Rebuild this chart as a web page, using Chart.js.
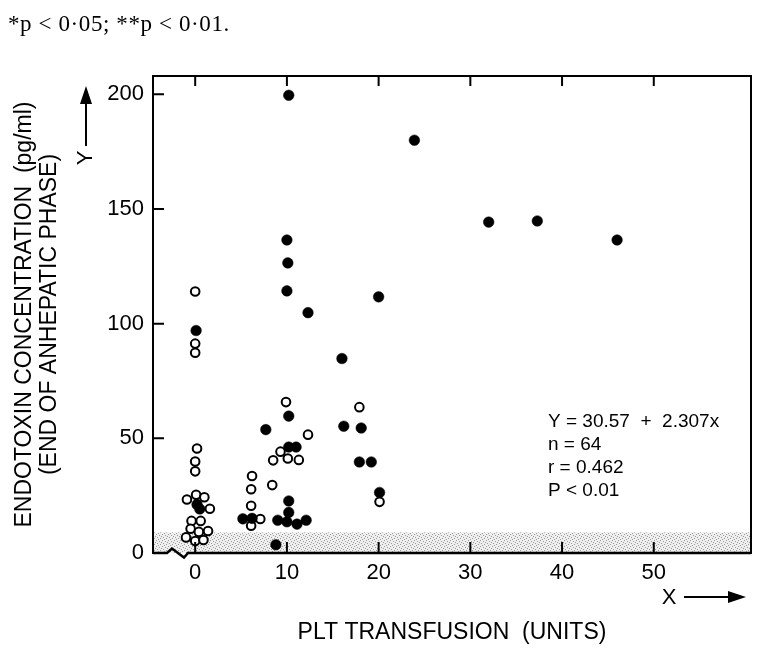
<!DOCTYPE html>
<html><head><meta charset="utf-8">
<script src="https://cdn.jsdelivr.net/npm/chart.js@4"></script>
<style>html,body{margin:0;padding:0;background:#fff}</style>
</head><body>
<canvas id="c" width="762" height="649"></canvas>
<script>
// ---- data ----
const X_TICKS = [0, 10, 20, 30, 40, 50];
const Y_TICKS = [0, 50, 100, 150, 200];
const filledX = [0.1, 0.2, 0.5,
  10.2, 10.0, 10.1, 10.0, 12.3, 10.2, 7.7, 10.2, 11.0, 5.2, 6.2, 10.2, 10.2, 9.0, 10.0, 11.1, 12.1, 8.8,
  16.0, 16.2, 18.1, 17.9, 19.2, 20.1, 20.0,
  23.9, 32.0, 37.3, 46.0];
const filledY = [97, 21.2, 19.2,
  199.6, 136.5, 126.5, 114.3, 104.8, 59.7, 53.8, 46.2, 46.2, 14.9, 15.1, 22.7, 17.7, 14.3, 13.6, 12.6, 14.3, 3.6,
  84.8, 55.3, 54.5, 39.7, 39.7, 26.4, 111.7,
  180, 144.3, 144.8, 136.5];
const openX = [0.0, 0.0, 0.0, 0.2, 0.0, 0.0, -0.9, 0.1, 1.0, 1.6, -0.4, 0.6, -0.5, 0.4, 1.4, -1.0, 0.0, 0.9,
  9.9, 12.3, 9.3, 8.5, 10.1, 11.3, 6.2, 6.1, 8.4, 6.1, 7.1, 6.1,
  17.9, 20.1];
const openY = [114, 91.3, 87.3, 45.6, 39.9, 35.6, 23.3, 25.4, 24.3, 19.3, 14, 14, 10.6, 9.2, 9.6, 6.8, 5.2, 5.7,
  65.8, 51.6, 44.2, 40.4, 41.2, 40.6, 33.6, 27.8, 29.6, 20.6, 14.8, 11.9,
  63.6, 22.3];
const SHADE_MAX = 9;
const NOTE_LINES = ["Y = 30.57  +  2.307x", "n = 64", "r = 0.462", "P < 0.01"];
const HEADER = "*p < 0\u00b705; **p < 0\u00b701.";
const X_TITLE = "PLT TRANSFUSION  (UNITS)";
const Y_TITLE = ["ENDOTOXIN CONCENTRATION  (pg/ml)", "(END OF ANHEPATIC PHASE)"];

const pts = (xs, ys) => xs.map((v, i) => ({x: v, y: ys[i]}));

// stipple pattern for the shaded band
const pc = document.createElement('canvas'); pc.width = 6; pc.height = 6;
const pctx = pc.getContext('2d');
pctx.fillStyle = '#efefef'; pctx.fillRect(0, 0, 6, 6);
pctx.fillStyle = '#9a9a9a';
[[0,0],[3,1],[1,3],[4,4],[2,5],[5,2]].forEach(([a,b]) => pctx.fillRect(a, b, 1, 1));

const deco = {
  id: 'deco',
  beforeDatasetsDraw(chart) {
    const {ctx, chartArea: a, scales: {y}} = chart;
    const yb = y.getPixelForValue(SHADE_MAX);
    ctx.save();
    ctx.fillStyle = ctx.createPattern(pc, 'repeat');
    ctx.fillRect(a.left, yb, a.right - a.left, a.bottom - yb);
    ctx.restore();
  },
  afterDatasetsDraw(chart) {
    const {ctx, chartArea: a, scales: {x, y}} = chart;
    ctx.save();
    ctx.strokeStyle = '#000';
    ctx.lineWidth = 2;
    ctx.lineCap = 'square';
    ctx.beginPath();
    ctx.moveTo(a.left, a.bottom); ctx.lineTo(a.left, a.top);
    ctx.lineTo(a.right, a.top); ctx.lineTo(a.right, a.bottom);
    ctx.stroke();
    // bottom with axis break
    ctx.lineWidth = 2.5;
    ctx.lineCap = 'butt';
    ctx.beginPath();
    ctx.moveTo(a.left, a.bottom); ctx.lineTo(167, a.bottom);
    ctx.lineTo(172, a.bottom - 4.5); ctx.lineTo(184, a.bottom + 4.5); ctx.lineTo(188, a.bottom);
    ctx.lineTo(a.right, a.bottom);
    ctx.stroke();
    // inward ticks
    ctx.lineWidth = 2;
    ctx.beginPath();
    X_TICKS.forEach(v => {
      const px = x.getPixelForValue(v);
      ctx.moveTo(px, a.bottom); ctx.lineTo(px, a.bottom - 11);
      ctx.moveTo(px, a.top); ctx.lineTo(px, a.top + 10);
    });
    Y_TICKS.forEach(v => {
      if (v === 0) return;
      const py = y.getPixelForValue(v);
      ctx.moveTo(a.left, py); ctx.lineTo(a.left + 11, py);
    });
    ctx.stroke();
    ctx.restore();
  },
  afterDraw(chart) {
    const {ctx} = chart;
    ctx.save();
    ctx.fillStyle = '#000';
    ctx.strokeStyle = '#000';
    // header
    ctx.font = '23px "Liberation Serif"';
    ctx.textBaseline = 'alphabetic';
    ctx.textAlign = 'left';
    ctx.letterSpacing = '0.6px';
    ctx.fillText(HEADER, 8, 31);
    ctx.letterSpacing = '0px';
    // regression note
    ctx.font = '19px "Liberation Sans"';
    const base = [426.5, 449.7, 472.9, 496];
    NOTE_LINES.forEach((t, i) => ctx.fillText(t, 548, base[i]));
    // X arrow
    ctx.font = '22px "Liberation Sans"';
    ctx.textAlign = 'center'; ctx.textBaseline = 'middle';
    ctx.fillText('X', 669, 598);
    ctx.lineWidth = 2;
    ctx.beginPath(); ctx.moveTo(684, 597); ctx.lineTo(732, 597); ctx.stroke();
    ctx.beginPath(); ctx.moveTo(746, 597); ctx.lineTo(728, 591); ctx.lineTo(728, 603); ctx.closePath(); ctx.fill();
    // Y arrow
    ctx.save();
    ctx.translate(86, 158); ctx.rotate(-Math.PI / 2);
    ctx.fillText('Y', 0, 0);
    ctx.restore();
    ctx.beginPath(); ctx.moveTo(86, 146); ctx.lineTo(86, 100); ctx.stroke();
    ctx.beginPath(); ctx.moveTo(86, 86); ctx.lineTo(80, 104); ctx.lineTo(92, 104); ctx.closePath(); ctx.fill();
    ctx.restore();
  }
};

Chart.defaults.font.family = '"Liberation Sans", Arial, sans-serif';
Chart.defaults.color = '#000';

new Chart(document.getElementById('c'), {
  type: 'scatter',
  data: {
    datasets: [
      { label: 'filled', data: pts(filledX, filledY), pointRadius: 5.3, pointHoverRadius: 5.3,
        backgroundColor: '#000', borderColor: '#000', borderWidth: 0.5 },
      { label: 'open', data: pts(openX, openY), pointRadius: 4.3, pointHoverRadius: 4.3,
        backgroundColor: '#fff', borderColor: '#000', borderWidth: 2 }
    ]
  },
  options: {
    responsive: false,
    devicePixelRatio: 1,
    animation: false,
    layout: { padding: { left: 0, top: 76, right: 11, bottom: 0 } },
    plugins: { legend: { display: false }, tooltip: { enabled: false } },
    scales: {
      x: {
        type: 'linear', min: -4.6, max: 60.6,
        grid: { display: false, drawTicks: false },
        border: { display: false },
        afterBuildTicks: s => { s.ticks = X_TICKS.map(v => ({value: v})); },
        afterFit: s => { s.height = 96; },
        ticks: { padding: 7, font: { size: 22 }, color: '#000' },
        title: { display: true, text: X_TITLE, font: { size: 23 }, color: '#000', padding: { top: 0, bottom: 3 } }
      },
      y: {
        type: 'linear', min: 0, max: 208,
        grid: { display: false, drawTicks: false },
        border: { display: false },
        afterBuildTicks: s => { s.ticks = Y_TICKS.map(v => ({value: v})); },
        afterFit: s => { s.width = 153; },
        ticks: { padding: 9, font: { size: 22 }, color: '#000' },
        title: { display: true, text: Y_TITLE, font: { size: 23, lineHeight: 1.08 }, color: '#000', padding: { top: 12, bottom: 0 } }
      }
    }
  },
  plugins: [deco]
});
</script>
</body></html>
